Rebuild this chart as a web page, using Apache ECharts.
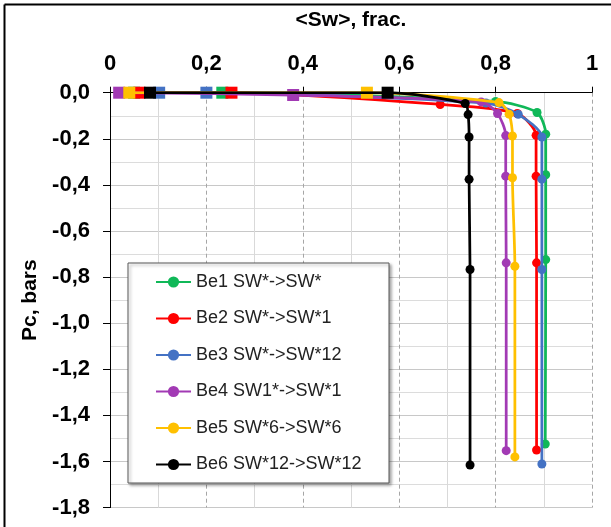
<!DOCTYPE html>
<html><head><meta charset="utf-8">
<script src="https://cdn.jsdelivr.net/npm/echarts@6/dist/echarts.min.js"></script>
<style>html,body{margin:0;padding:0;background:#fff}#c{width:611px;height:527px}</style>
</head><body><div id="c"></div>
<script>
// Series names
var seriesNames = ['Be1 SW*->SW*', 'Be2 SW*->SW*1', 'Be3 SW*->SW*12', 'Be4 SW1*->SW*1', 'Be5 SW*6->SW*6', 'Be6 SW*12->SW*12'];
var seriesColors = ['#10B858', '#FF0000', '#4472C4', '#A23AB4', '#FFC000', '#000000'];
// <Sw> values (first two points: Pc = 0 points shown as squares)
var be1Sw = [0.050, 0.233, 0.800, 0.886, 0.904, 0.904, 0.904, 0.903];
var be1Pc = [0, 0, -0.038, -0.086, -0.180, -0.356, -0.724, -1.524];
var be2Sw = [0.061, 0.252, 0.685, 0.845, 0.884, 0.884, 0.885, 0.885];
var be2Pc = [0, 0, -0.051, -0.090, -0.185, -0.362, -0.738, -1.550];
var be3Sw = [0.102, 0.200, 0.780, 0.847, 0.896, 0.896, 0.896, 0.896];
var be3Pc = [0, 0, -0.045, -0.094, -0.192, -0.375, -0.767, -1.611];
var be4Sw = [0.019, 0.380, 0.770, 0.804, 0.821, 0.821, 0.822, 0.822];
var be4Pc = [0, -0.010, -0.040, -0.090, -0.186, -0.362, -0.738, -1.553];
var be5Sw = [0.040, 0.533, 0.807, 0.828, 0.835, 0.835, 0.840, 0.840];
var be5Pc = [0, 0, -0.043, -0.093, -0.188, -0.369, -0.753, -1.580];
var be6Sw = [0.083, 0.576, 0.737, 0.743, 0.745, 0.745, 0.747, 0.747];
var be6Pc = [0, 0, -0.047, -0.095, -0.192, -0.376, -0.767, -1.615];
var squarePoints = 2; // number of leading points drawn as squares

var swSets = [be1Sw, be2Sw, be3Sw, be4Sw, be5Sw, be6Sw];
var pcSets = [be1Pc, be2Pc, be3Pc, be4Pc, be5Pc, be6Pc];

var chart = echarts.init(document.getElementById('c'), null, {renderer: 'canvas'});
var FONT = 'Liberation Sans';

function fmt(v) { return String(+v.toFixed(1)).replace('.', ','); }

var series = seriesNames.map(function (name, i) {
  var data = swSets[i].map(function (x, k) {
    var d = {value: [x, pcSets[i][k]]};
    if (k < squarePoints) { d.symbol = 'rect'; d.symbolSize = 12; }
    return d;
  });
  return {
    name: name, type: 'line', data: data, smooth: 0.25,
    symbol: 'circle', symbolSize: 9, showAllSymbol: true,
    lineStyle: {width: 2.75, color: seriesColors[i]},
    itemStyle: {color: seriesColors[i]},
    emphasis: {disabled: true}, animation: false, z: 3 + i
  };
});

chart.setOption({
  animation: false,
  backgroundColor: '#fff',
  textStyle: {fontFamily: FONT},
  grid: {left: 110, top: 92.7, right: 19, bottom: 19.4, containLabel: false},
  xAxis: {
    type: 'value', position: 'top', min: 0, max: 1, interval: 0.2,
    name: '<Sw>, frac.', nameLocation: 'middle', nameGap: 62,
    nameTextStyle: {fontFamily: FONT, fontWeight: 'bold', fontSize: 21, color: '#000'},
    axisLine: {show: true, onZero: false, lineStyle: {color: '#000', width: 1}},
    axisTick: {show: true, length: 6, lineStyle: {color: '#000'}},
    axisLabel: {formatter: fmt, fontFamily: FONT, fontWeight: 'bold', fontSize: 22, color: '#000', margin: 18},
    splitLine: {show: true, lineStyle: {color: '#A6A6A6', type: [4, 3], width: 1}},
    minorTick: {show: false, splitNumber: 2},
    minorSplitLine: {show: true, lineStyle: {color: '#D9D9D9', width: 1}}
  },
  yAxis: {
    type: 'value', min: -1.8, max: 0, interval: 0.2,
    name: 'Pc, bars', nameLocation: 'middle', nameGap: 69, nameRotate: 90,
    nameTextStyle: {fontFamily: FONT, fontWeight: 'bold', fontSize: 21, color: '#000'},
    axisLine: {show: true, onZero: false, lineStyle: {color: '#000', width: 1}},
    axisTick: {show: true, length: 7, lineStyle: {color: '#000'}},
    axisLabel: {formatter: function (v) { return v.toFixed(1).replace('.', ',').replace('-0,0', '0,0'); },
      fontFamily: FONT, fontWeight: 'bold', fontSize: 22, color: '#000', margin: 20},
    splitLine: {show: true, lineStyle: {color: '#C8C8C8', width: 1}},
    minorTick: {show: false, splitNumber: 2},
    minorSplitLine: {show: true, lineStyle: {color: '#DCDCDC', width: 1}}
  },
  legend: {
    orient: 'vertical', left: 155, top: 272, padding: 0,
    itemWidth: 35, itemHeight: 14, itemGap: 16.5, itemStyle: {},
    textStyle: {fontFamily: FONT, fontSize: 18, color: '#222', lineHeight: 20},
    data: seriesNames, z: 20
  },
  graphic: [
    {type: 'rect', z: 15, shape: {x: 128, y: 263, width: 261, height: 220},
     style: {fill: '#fff', stroke: '#595959', lineWidth: 1, shadowBlur: 3, shadowOffsetX: 2, shadowOffsetY: 2, shadowColor: 'rgba(0,0,0,0.35)'}},
    {type: 'line', z: 30, shape: {x1: 4.5, y1: 4.5, x2: 611, y2: 4.5}, style: {stroke: '#000', lineWidth: 2}},
    {type: 'line', z: 30, shape: {x1: 4.5, y1: 4.5, x2: 4.5, y2: 527}, style: {stroke: '#000', lineWidth: 2}}
  ],
  series: series
});
</script></body></html>
